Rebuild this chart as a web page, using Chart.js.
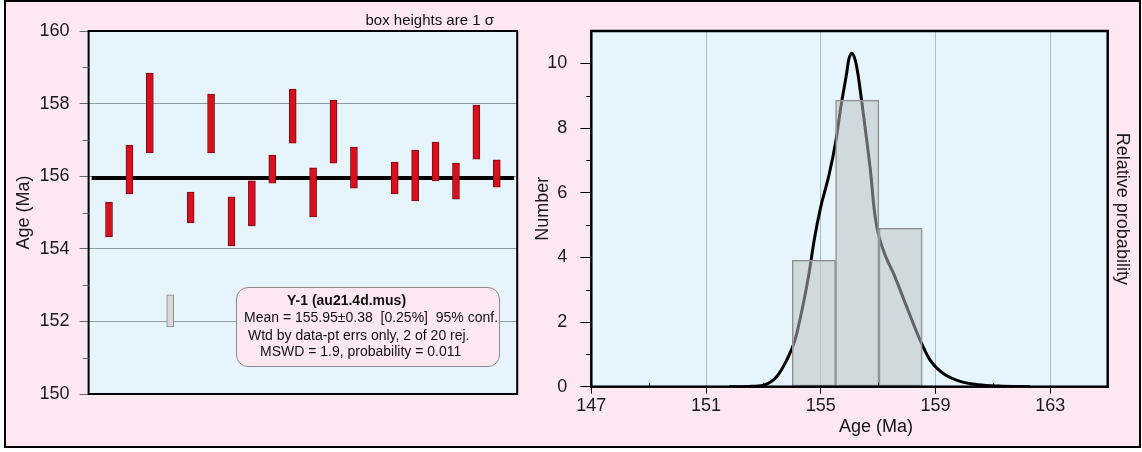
<!DOCTYPE html>
<html>
<head>
<meta charset="utf-8">
<script src="https://cdn.jsdelivr.net/npm/chart.js@4.4.0/dist/chart.umd.min.js"></script>
<style>
body { margin: 0; background: #fff; font-family: 'Liberation Sans', Arial, sans-serif; }
#frame { position: absolute; left: 4px; top: 0; width: 1137px; height: 448px; box-sizing: border-box; border: 2px solid #000; background: #fde8f2; }
#leftWrap { position: absolute; left: 0; top: 0; width: 526px; height: 444px; }
#rightWrap { position: absolute; left: 526px; top: 0; width: 607px; height: 444px; }
.note { position: absolute; left: 288px; top: 10px; width: 200px; text-align: right; font-size: 15px; line-height: 15px; color: #111; }
#stats { position: absolute; left: 230px; top: 285px; width: 264px; height: 80px; box-sizing: border-box; border: 1px solid #8a8a8a; border-radius: 12px; background: #fde8f2; font-size: 14px; color: #111; }
#stats div { position: absolute; white-space: pre; line-height: 17px; }
#xTitle { position: absolute; left: 770px; top: 414px; width: 200px; text-align: center; font-size: 18px; line-height: 21px; color: #111; }
</style>
</head>
<body>
<div id="frame">
  <div id="leftWrap"><canvas id="ageChart"></canvas></div>
  <div id="rightWrap"><canvas id="histChart"></canvas></div>
  <div class="note">box heights are 1 σ</div>
  <div id="stats">
    <div style="left:50px;top:4px;font-weight:bold;font-size:14px">Y-1 (au21.4d.mus)</div>
    <div style="left:7px;top:21px">Mean = 155.95±0.38  [0.25%]  95% conf.</div>
    <div style="left:11px;top:39px">Wtd by data-pt errs only, 2 of 20 rej.</div>
    <div style="left:23px;top:55px">MSWD = 1.9, probability = 0.011</div>
  </div>
  <div id="xTitle">Age (Ma)</div>
</div>
<script>
// left panel: spot ages, 1 sigma boxes
var spotIndex = [1, 2, 3, 4, 5, 6, 7, 8, 9, 10, 11, 12, 13, 14, 15, 16, 17, 18, 19, 20];
var spotLow  = [154.33, 155.51, 156.64, 151.85, 154.71, 156.64, 154.08, 154.63, 155.81, 156.91, 154.88, 156.36, 155.67, null, 155.51, 155.32, 155.87, 155.37, 156.47, 155.70];
var spotHigh = [155.29, 156.86, 158.84, 152.73, 155.56, 158.26, 155.43, 155.87, 156.58, 158.40, 156.23, 158.10, 156.80, null, 156.39, 156.72, 156.94, 156.36, 157.96, 156.45];
var rejected = [4, 14];
var meanAge = 155.95;
var ageTicks = [150, 152, 154, 156, 158, 160];
var ageMinor = [151, 153, 155, 157, 159];

// right panel: histogram + probability curve
var binCenters = [154.76, 156.27, 157.78];
var binCounts = [3.91, 8.86, 4.90];
var probAge   = [151.8, 152.5, 153.0, 153.46, 153.81, 154.1, 154.37, 154.59, 154.77, 155.0, 155.15, 155.3, 155.53, 155.7, 155.9, 155.97, 156.08, 156.2, 156.29, 156.45, 156.6, 156.74, 156.85, 156.95, 157.06, 157.26, 157.53, 157.99, 158.46, 158.81, 159.2, 159.8, 160.5, 161.2, 162.3];
var probValue = [0, 0.01, 0.05, 0.31, 0.82, 1.44, 2.48, 3.51, 4.54, 5.57, 6.08, 6.6, 7.63, 8.66, 9.69, 10.1, 10.31, 10.1, 9.69, 8.66, 7.63, 6.6, 5.57, 4.95, 4.54, 4.03, 3.51, 2.48, 1.44, 0.82, 0.45, 0.18, 0.06, 0.02, 0];
var histXTicks = [147, 151, 155, 159, 163];
var histXMinor = [149, 153, 157, 161];
var countTicks = [0, 2, 4, 6, 8, 10];
var countMinor = [1, 3, 5, 7, 9];

Chart.defaults.font.family = "'Liberation Sans', Arial, sans-serif";
Chart.defaults.color = '#1a1a1a';
Chart.defaults.animation = false;

var plotFrame = {
    id: 'plotFrame',
    beforeDraw: function (chart, args, opts) {
        var a = chart.chartArea, ctx = chart.ctx;
        ctx.save();
        ctx.fillStyle = opts.fill;
        ctx.fillRect(a.left, a.top, a.right - a.left, a.bottom - a.top);
        ctx.restore();
    },
    afterDraw: function (chart, args, opts) {
        var a = chart.chartArea, ctx = chart.ctx;
        ctx.save();
        ctx.strokeStyle = '#000';
        ctx.lineWidth = opts.width;
        ctx.strokeRect(a.left, a.top, a.right - a.left, a.bottom - a.top);
        ctx.restore();
    }
};

var minorTicks = {
    id: 'minorTicks',
    afterDraw: function (chart, args, opts) {
        var ctx = chart.ctx, a = chart.chartArea;
        (opts.sets || []).forEach(function (set) {
            var scale = chart.scales[set.axis];
            ctx.save();
            ctx.strokeStyle = set.color;
            ctx.lineWidth = 1;
            set.values.forEach(function (v) {
                var p = Math.round(scale.getPixelForValue(v)) + 0.5;
                ctx.beginPath();
                if (scale.isHorizontal()) {
                    ctx.moveTo(p, a.bottom);
                    ctx.lineTo(p, a.bottom - set.length);
                } else {
                    ctx.moveTo(a.left, p);
                    ctx.lineTo(a.left - set.length, p);
                }
                ctx.stroke();
            });
            ctx.restore();
        });
    }
};

function setTicks(values) {
    return function (axis) {
        axis.ticks = values.map(function (v) { return { value: v }; });
    };
}

var keptSpots = [], rejSpots = [];
spotIndex.forEach(function (n, i) {
    if (spotLow[i] === null) return;
    var p = { x: n, y: [spotLow[i], spotHigh[i]] };
    if (rejected.indexOf(n) >= 0) rejSpots.push(p); else keptSpots.push(p);
});

new Chart(document.getElementById('ageChart'), {
    type: 'bar',
    data: {
        datasets: [
            { label: 'accepted', data: keptSpots, backgroundColor: '#d8101d', borderColor: '#7a0a10', borderWidth: 1, borderSkipped: false, barThickness: 7, grouped: false },
            { label: 'rejected', data: rejSpots, backgroundColor: '#d8d8d8', borderColor: '#8a8a8a', borderWidth: 1, borderSkipped: false, barThickness: 7, grouped: false },
            { type: 'line', label: 'mean', data: [{ x: 0.15, y: meanAge }, { x: 20.85, y: meanAge }], borderColor: '#000', borderWidth: 4, pointRadius: 0 }
        ]
    },
    options: {
        responsive: true,
        maintainAspectRatio: false,
        layout: { padding: { top: 29, right: 14.8, bottom: 52, left: 0 } },
        plugins: {
            legend: { display: false },
            tooltip: { enabled: false },
            plotFrame: { fill: '#e6f4fb', width: 2 },
            minorTicks: { sets: [{ axis: 'y', values: ageMinor, length: 6, color: '#666' }] }
        },
        scales: {
            x: { type: 'linear', min: 0, max: 21, display: false, offset: false },
            y: {
                min: 150, max: 160,
                afterBuildTicks: setTicks(ageTicks),
                afterFit: function (ax) { ax.width = 82.6; },
                ticks: { font: { size: 18 }, padding: 10, color: '#1a1a1a' },
                grid: {
                    color: function (c) { return c.tick && (c.tick.value === 150 || c.tick.value === 160) ? 'rgba(0,0,0,0)' : '#8d9ca4'; },
                    tickColor: '#666', tickLength: 9
                },
                border: { display: false },
                title: { display: true, text: 'Age (Ma)', font: { size: 18 }, padding: { top: 7 }, color: '#1a1a1a' }
            }
        }
    },
    plugins: [plotFrame, minorTicks]
});

new Chart(document.getElementById('histChart'), {
    type: 'bar',
    data: {
        datasets: [
            { label: 'Number', data: binCenters.map(function (x, i) { return { x: x, y: binCounts[i] }; }), backgroundColor: 'rgba(188,192,195,0.52)', borderColor: '#8c8c8c', borderWidth: 1, borderSkipped: false, barPercentage: 1, categoryPercentage: 1, order: 0 },
            { type: 'line', label: 'Relative probability', data: probAge.map(function (x, i) { return { x: x, y: probValue[i] }; }), yAxisID: 'y2', borderColor: '#000', borderWidth: 3, pointRadius: 0, cubicInterpolationMode: 'monotone', order: 1 }
        ]
    },
    options: {
        responsive: true,
        maintainAspectRatio: false,
        layout: { padding: { top: 29, right: 0, bottom: 0, left: 0 } },
        plugins: {
            legend: { display: false },
            tooltip: { enabled: false },
            plotFrame: { fill: '#e6f4fb', width: 2.5 },
            minorTicks: { sets: [
                { axis: 'y', values: countMinor, length: 5, color: '#000' },
                { axis: 'x', values: histXMinor, length: 4, color: '#000' }
            ] }
        },
        scales: {
            x: {
                type: 'linear', min: 147, max: 165, offset: false,
                afterBuildTicks: setTicks(histXTicks),
                afterFit: function (ax) { ax.height = 59.3; },
                ticks: { font: { size: 18 }, padding: 2, maxRotation: 0, color: '#1a1a1a' },
                grid: {
                    offset: false,
                    color: function (c) { return c.tick && c.tick.value === 147 ? 'rgba(0,0,0,0)' : '#aabac2'; },
                    tickColor: '#000', tickLength: 7
                },
                border: { display: false }
            },
            y: {
                min: 0, max: 11,
                afterBuildTicks: setTicks(countTicks),
                afterFit: function (ax) { ax.width = 59.3; },
                ticks: { font: { size: 18 }, padding: 13, color: '#1a1a1a' },
                grid: { drawOnChartArea: false, tickColor: '#000', tickLength: 11 },
                border: { display: false },
                title: { display: true, text: 'Number', font: { size: 18 }, padding: { top: 0 }, color: '#1a1a1a' }
            },
            y2: {
                position: 'right', min: 0, max: 11,
                afterFit: function (ax) { ax.width = 31.3; },
                ticks: { display: false },
                grid: { display: false },
                border: { display: false },
                title: { display: true, text: 'Relative probability', font: { size: 18 }, padding: { top: 6.7 }, color: '#1a1a1a' }
            }
        }
    },
    plugins: [plotFrame, minorTicks]
});
</script>
</body>
</html>
